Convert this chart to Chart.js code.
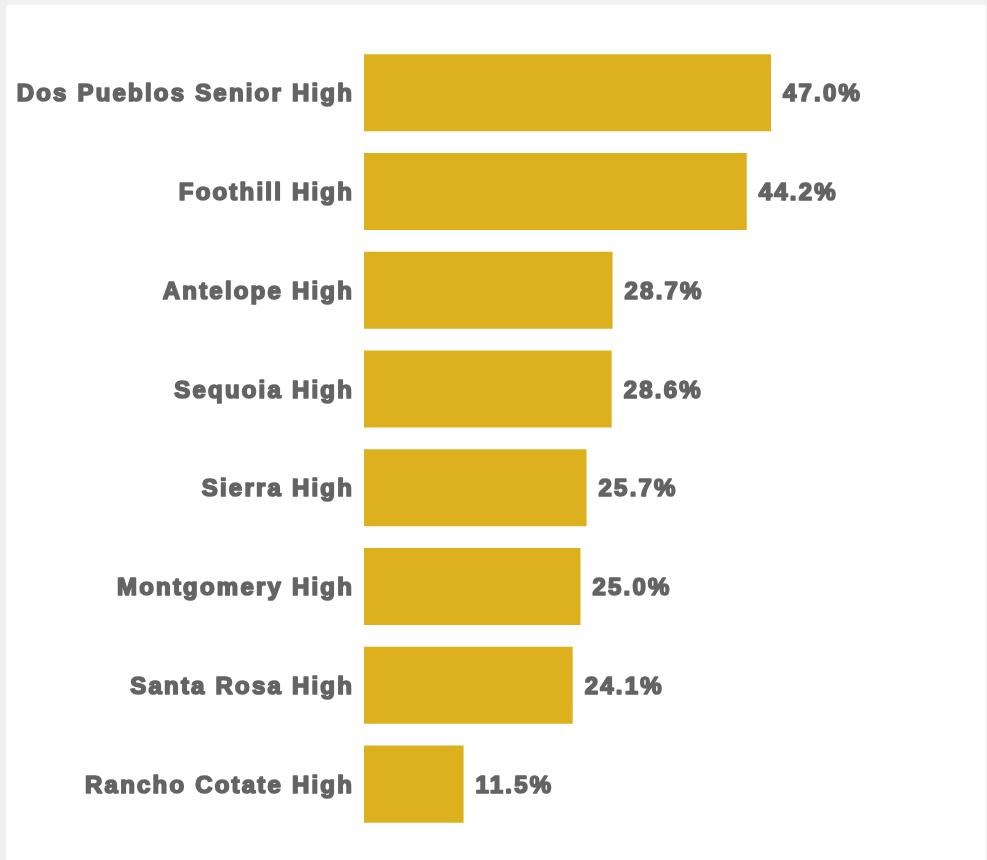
<!DOCTYPE html>
<html>
<head>
<meta charset="utf-8">
<script src="https://cdn.jsdelivr.net/npm/chart.js@4"></script>
<style>
  html, body { margin: 0; padding: 0; background: #f0f0f0; width: 987px; height: 860px; overflow: hidden; }
  #wrap { position: absolute; left: 6px; top: 5px; width: 980px; height: 855px; background: #ffffff; }
  canvas { display: block; }
</style>
</head>
<body>
<div id="wrap"><canvas id="c" width="980" height="855"></canvas></div>
<script>
const categories = ["Dos Pueblos Senior High", "Foothill High", "Antelope High", "Sequoia High", "Sierra High", "Montgomery High", "Santa Rosa High", "Rancho Cotate High"];
const values = [47.0, 44.2, 28.7, 28.6, 25.7, 25.0, 24.1, 11.5];
const valueLabels = ["47.0%", "44.2%", "28.7%", "28.6%", "25.7%", "25.0%", "24.1%", "11.5%"];

const FONT = '"Liberation Sans", Arial, Helvetica, sans-serif';
const TEXT = '#646464';
const BAR = '#DDB11D';
const SPACING = '2.2px';

const spacingPlugin = {
  id: 'spacing',
  beforeDraw(chart) {
    chart.ctx.letterSpacing = SPACING;
    chart.ctx.lineJoin = 'round';
    chart.ctx.miterLimit = 2;
  }
};

const labelPlugin = {
  id: 'valueLabels',
  afterDatasetsDraw(chart) {
    const ctx = chart.ctx;
    const meta = chart.getDatasetMeta(0);
    ctx.save();
    ctx.letterSpacing = SPACING;
    ctx.font = 'bold 24px ' + FONT;
    ctx.fillStyle = TEXT;
    ctx.strokeStyle = TEXT;
    ctx.lineWidth = 1.7;
    ctx.lineJoin = 'round';
    ctx.textAlign = 'left';
    ctx.textBaseline = 'middle';
    meta.data.forEach((bar, i) => {
      ctx.fillText(valueLabels[i], bar.x + 12, bar.y + 2);
      ctx.strokeText(valueLabels[i], bar.x + 12, bar.y + 2);
    });
    ctx.restore();
  }
};

new Chart(document.getElementById('c'), {
  type: 'bar',
  data: {
    labels: categories,
    datasets: [{
      data: values,
      backgroundColor: BAR,
      borderWidth: 0,
      categoryPercentage: 1,
      barPercentage: 0.78
    }]
  },
  options: {
    indexAxis: 'y',
    responsive: false,
    animation: false,
    layout: { padding: { left: 0, right: 102.4, top: 38.3, bottom: 26.5 } },
    plugins: { legend: { display: false }, tooltip: { enabled: false } },
    scales: {
      x: { display: false, min: 0, max: 60 },
      y: {
        afterFit(scale) { scale.width = 358; },
        grid: { display: false, drawTicks: false },
        border: { display: false },
        ticks: {
          color: TEXT, padding: 10, labelOffset: 2,
          textStrokeColor: TEXT, textStrokeWidth: 1.7,
          font: { family: FONT, size: 24, weight: 'bold' }
        }
      }
    }
  },
  plugins: [spacingPlugin, labelPlugin]
});
</script>
</body>
</html>
